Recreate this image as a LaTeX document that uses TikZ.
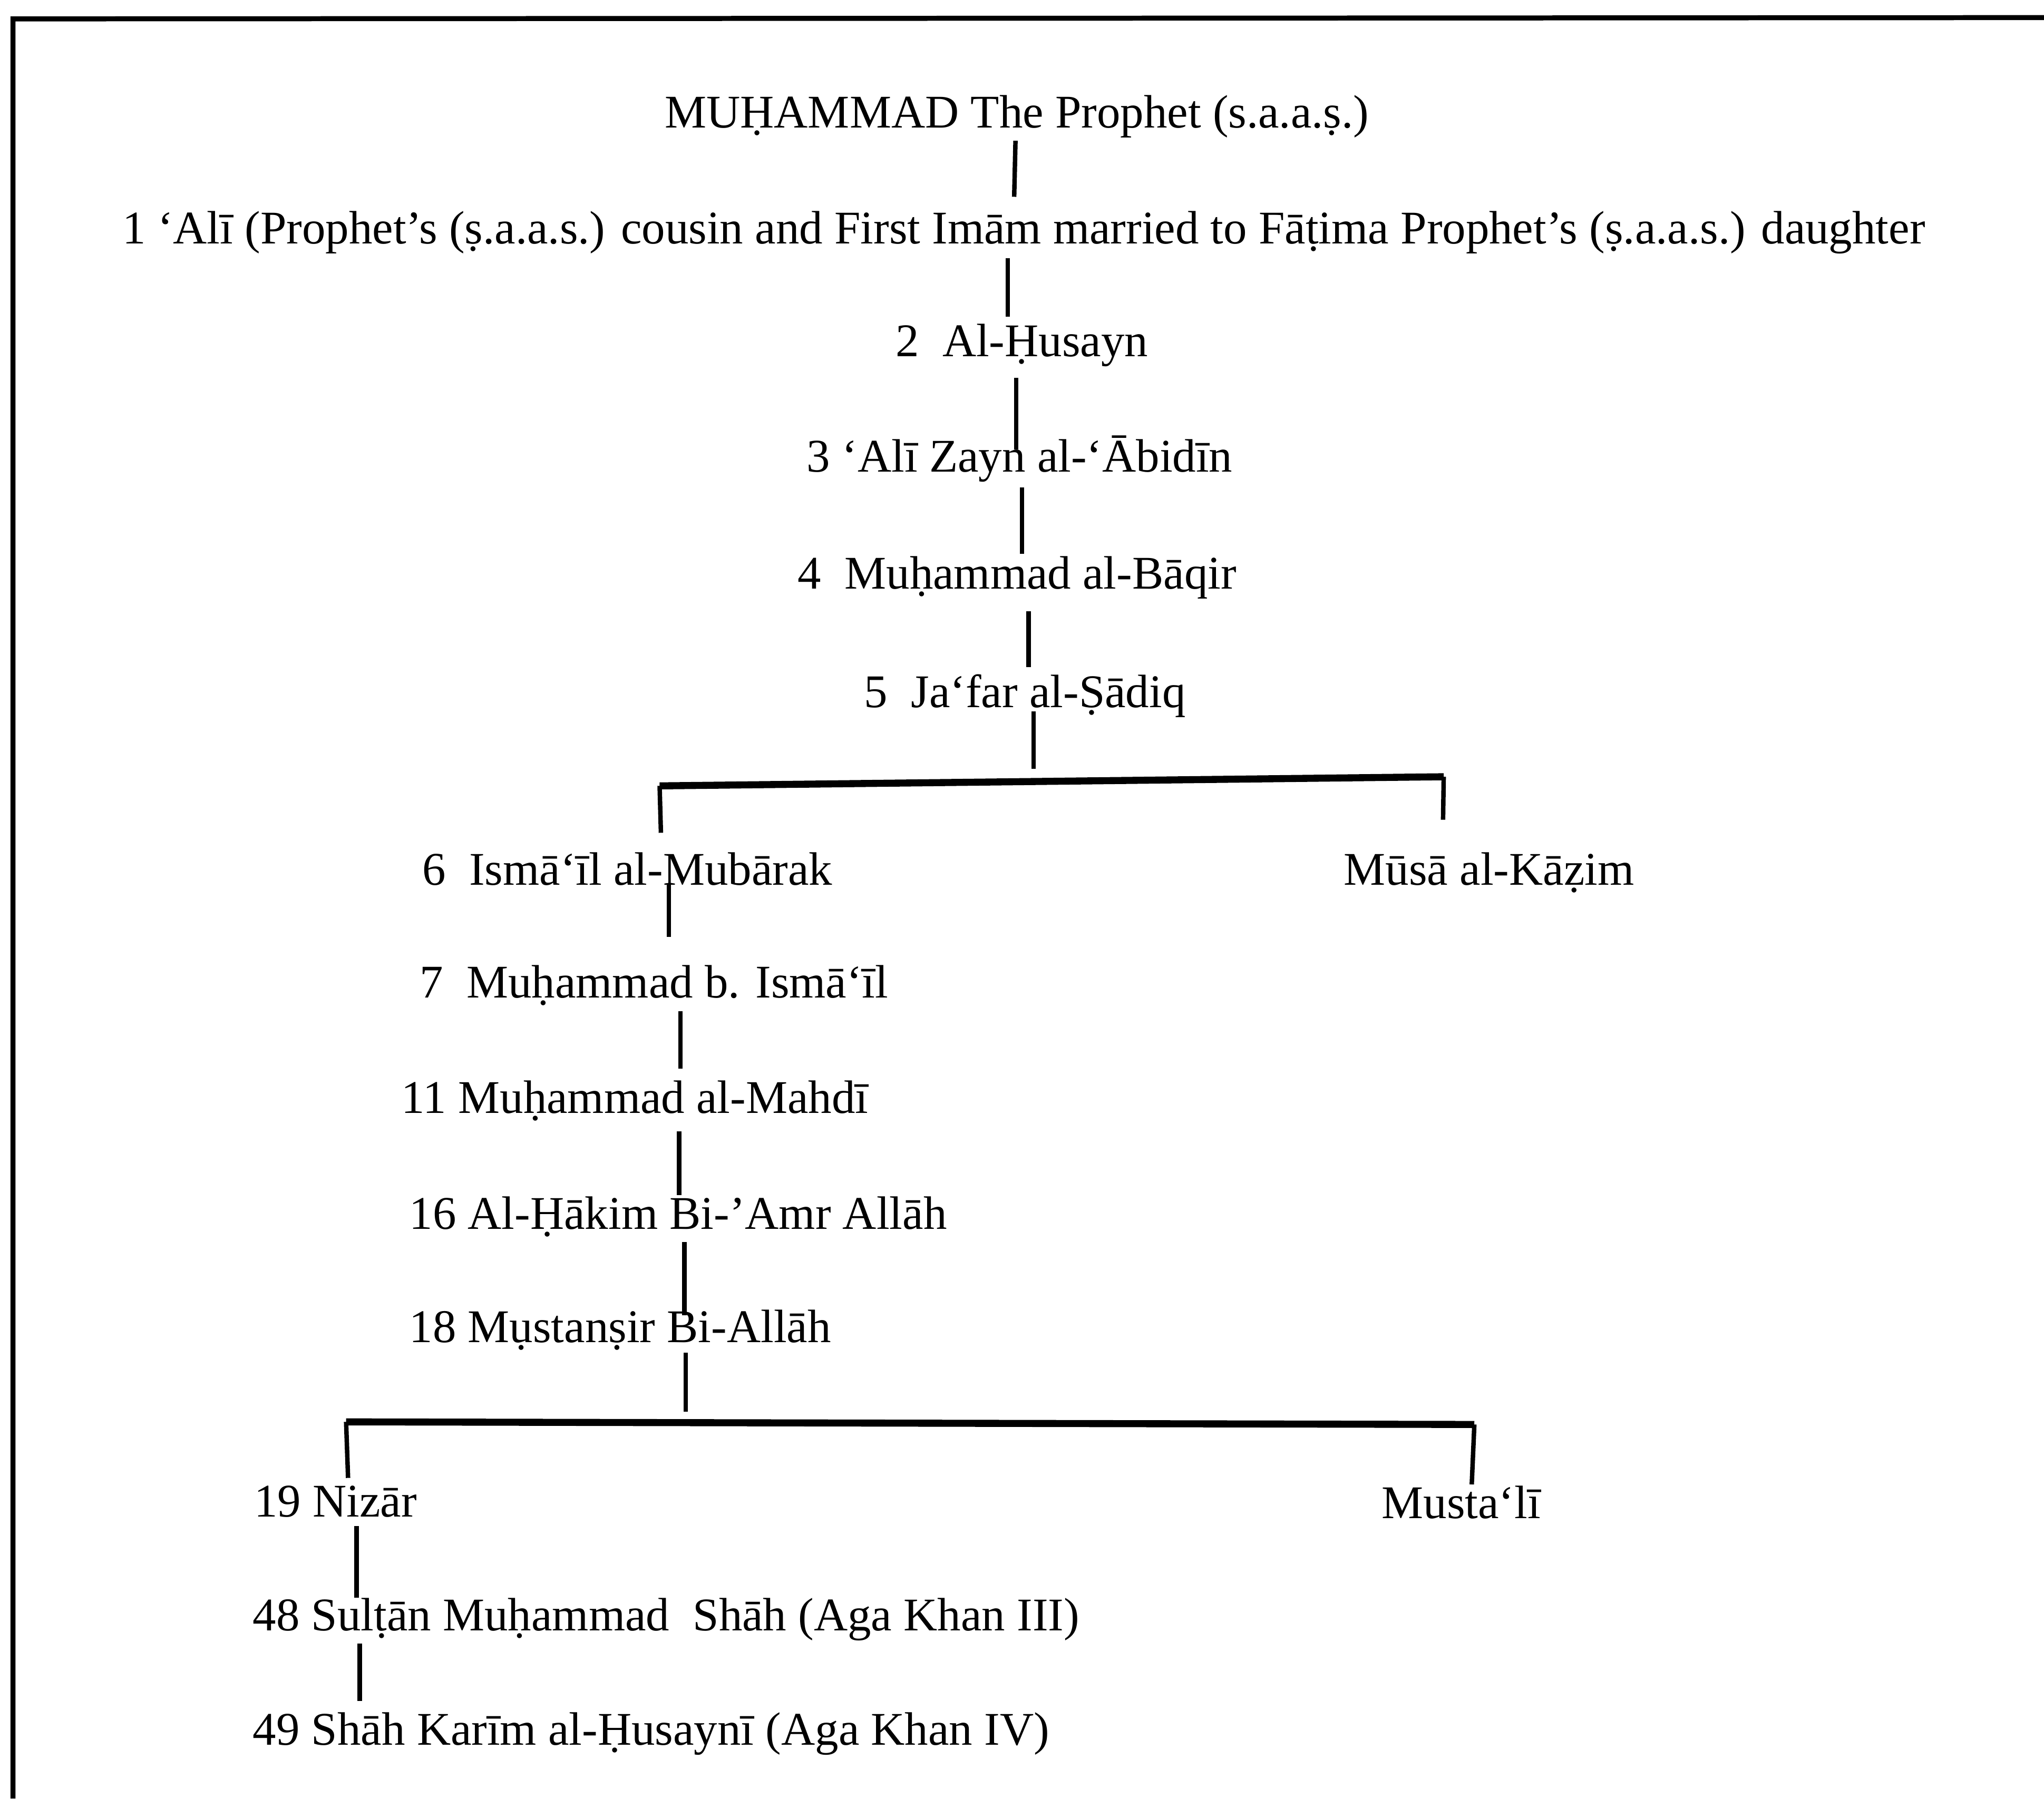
\documentclass[tikz,border=0pt]{standalone}
\usepackage{fontspec}
\setmainfont{Liberation Serif}
\begin{document}
\begin{tikzpicture}[x=0.024732cm, y=-0.024732cm,
  lbl/.style={anchor=base west, inner sep=0pt, outer sep=0pt, font=\fontsize{25.3}{30}\selectfont},
  conn/.style={line width=2.4pt, line cap=butt},
  bar/.style={line width=3.8pt, line cap=butt},
  frameline/.style={line width=2.7pt, line cap=butt}]
\useasboundingbox (0,0) rectangle (1568,1380);
\fill[white] (0,0) rectangle (1568,1380);
% frame (top and left edges)
\coordinate (fl) at (10,1380);
\coordinate (fc) at (10,14.5);
\coordinate (fr) at (1568,13.5);
\draw[frameline] (fl) -- (fc) -- (fr);
% names
\node[lbl] (t0) at (510,98) {MUḤAMMAD The Prophet (s.a.a.ṣ.)};
\node[lbl] (t1) at (94,187) {1 ‘Alī (Prophet’s (ṣ.a.a.s.) cousin and First Imām married to Fāṭima Prophet’s (ṣ.a.a.s.) daughter};
\node[lbl] (t2) at (687,273.5) {2\ \ Al-Ḥusayn};
\node[lbl] (t3) at (619,362) {3 ‘Alī Zayn al-‘Ābidīn};
\node[lbl] (t4) at (612,452) {4\ \ Muḥammad al-Bāqir};
\node[lbl] (t5) at (663,543) {5\ \ Ja‘far al-Ṣādiq};
\node[lbl] (t6) at (324,679) {6\ \ Ismā‘īl al-Mubārak};
\node[lbl] (t6b) at (1031,679) {Mūsā al-Kāẓim};
\node[lbl] (t7) at (322,765.5) {7\ \ Muḥammad b. Ismā‘īl};
\node[lbl] (t11) at (308,854) {11 Muḥammad al-Mahdī};
\node[lbl] (t16) at (314,943) {16 Al-Ḥākim Bi-’Amr Allāh};
\node[lbl] (t18) at (314,1030) {18 Mụstanṣir Bi-Allāh};
\node[lbl] (t19) at (195,1164) {19 Nizār};
\node[lbl] (t19b) at (1060,1165) {Musta‘lī};
\node[lbl] (t48) at (194,1251) {48 Sulṭān Muḥammad\ \ Shāh (Aga Khan III)};
\node[lbl] (t49) at (194,1339) {49 Shāh Karīm al-Ḥusaynī (Aga Khan IV)};
% connector end points
\coordinate (t0o) at (779,108);   \coordinate (t1i) at (778,151);
\coordinate (t1o) at (773,198);   \coordinate (t2i) at (773,243);
\coordinate (t2o) at (779.5,290); \coordinate (t3i) at (779.5,345);
\coordinate (t3o) at (784,374);   \coordinate (t4i) at (784,425);
\coordinate (t4o) at (789,469);   \coordinate (t5i) at (789,512);
\coordinate (t5o) at (793,546);   \coordinate (j1) at (793,590);
\coordinate (b1l) at (506,603);   \coordinate (b1r) at (1107.5,596);
\coordinate (t6i) at (507,639);   \coordinate (t6bi) at (1107,629);
\coordinate (t6o) at (513,678);   \coordinate (t7i) at (513,719);
\coordinate (t7o) at (522,776);   \coordinate (t11i) at (522,820);
\coordinate (t11o) at (521,868); \coordinate (t16i) at (521,917);
\coordinate (t16o) at (525,953); \coordinate (t18i) at (525,1009);
\coordinate (t18o) at (526,1038); \coordinate (j2) at (526,1083);
\coordinate (b2l) at (265.5,1091); \coordinate (b2r) at (1131,1093);
\coordinate (t19i) at (267,1134); \coordinate (t19bi) at (1129,1139);
\coordinate (t19o) at (273.5,1171); \coordinate (t48i) at (273.5,1226);
\coordinate (t48o) at (276,1261); \coordinate (t49i) at (276,1305);
% connectors
\draw[conn] (t0o) -- (t1i);
\draw[conn] (t1o) -- (t2i);
\draw[conn] (t2o) -- (t3i);
\draw[conn] (t3o) -- (t4i);
\draw[conn] (t4o) -- (t5i);
\draw[conn] (t5o) -- (j1);
\draw[bar] (b1l) -- (b1r);
\draw[conn] (b1l) -- (t6i);
\draw[conn] (b1r) -- (t6bi);
\draw[conn] (t6o) -- (t7i);
\draw[conn] (t7o) -- (t11i);
\draw[conn] (t11o) -- (t16i);
\draw[conn] (t16o) -- (t18i);
\draw[conn] (t18o) -- (j2);
\draw[bar] (b2l) -- (b2r);
\draw[conn] (b2l) -- (t19i);
\draw[conn] (b2r) -- (t19bi);
\draw[conn] (t19o) -- (t48i);
\draw[conn] (t48o) -- (t49i);
\end{tikzpicture}
\end{document}
